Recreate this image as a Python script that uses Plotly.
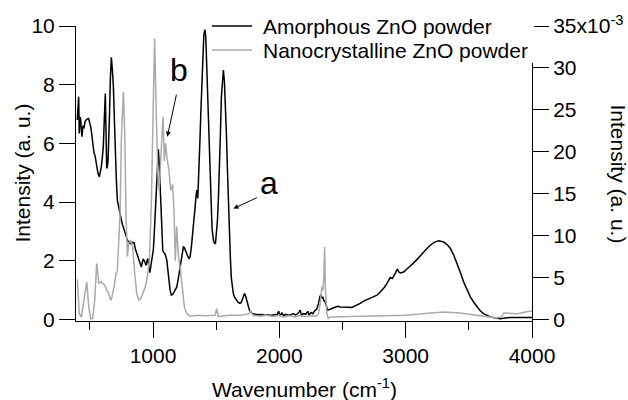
import plotly.graph_objects as go

# ---- Data ----
amorph_wn = [400, 411, 416, 422, 427, 432, 437, 445, 453, 462, 475, 490, 500, 506, 512, 519, 526, 533, 540, 546,
             555, 564, 575, 583, 590, 598, 606, 614, 622, 628, 633, 638, 644, 649, 654, 662, 670, 678, 686, 694,
             701, 709, 717, 730, 744, 757, 770, 784, 797, 810, 823, 837, 850, 860, 871, 882, 892, 900, 907, 915,
             922, 929, 937, 945, 952, 960, 966, 975, 985, 995, 1002, 1008, 1014, 1022, 1029, 1036, 1042, 1049, 1056, 1061,
             1066, 1072, 1077, 1085, 1093, 1101, 1109, 1117, 1125, 1135, 1145, 1156, 1167, 1178, 1188, 1200, 1214, 1227, 1240, 1248,
             1256, 1266, 1277, 1285, 1293, 1304, 1315, 1324, 1333, 1340, 1346, 1350, 1354, 1360, 1367, 1372, 1378, 1386, 1394, 1402,
             1410, 1416, 1420, 1428, 1436, 1446, 1457, 1467, 1478, 1486, 1494, 1502, 1510, 1518, 1526, 1533, 1541, 1549, 1557, 1565,
             1573, 1581, 1589, 1597, 1605, 1612, 1620, 1626, 1635, 1644, 1657, 1671, 1684, 1697, 1710, 1724, 1733, 1743, 1753, 1763,
             1776, 1790, 1810, 1835, 1860, 1885, 1910, 1935, 1960, 1980, 1995, 2005, 2020, 2035, 2050, 2070, 2090, 2110, 2130, 2150,
             2165, 2175, 2190, 2210, 2225, 2235, 2250, 2265, 2280, 2295, 2310, 2322, 2330, 2337, 2343, 2351, 2363, 2372, 2382, 2397,
             2429, 2460, 2482, 2521, 2550, 2575, 2614, 2640, 2667, 2695, 2720, 2750, 2773, 2795, 2812, 2832, 2852, 2866, 2878, 2894,
             2906, 2918, 2928, 2936, 2946, 2957, 2970, 2984, 3010, 3037, 3063, 3090, 3116, 3140, 3165, 3195, 3225, 3261, 3285, 3301,
             3330, 3354, 3380, 3407, 3433, 3459, 3485, 3512, 3540, 3565, 3590, 3617, 3645, 3670, 3710, 3750, 3790, 3829, 3900, 3950,
             4000]
amorph_int = [6.80, 7.59, 6.34, 6.9, 6.8, 6.3, 6.23, 6.6, 6.51, 6.75, 6.82, 6.85, 6.7, 6.57, 6.4, 6.11, 5.8, 5.66, 5.6, 5.43,
              5.2, 4.98, 4.86, 5.0, 5.2, 5.5, 5.88, 6.8, 7.70, 6.3, 5.15, 5.2, 5.43, 6.0, 6.8, 8.2, 8.93, 8.5, 7.93, 6.8,
              5.66, 4.8, 4.07, 3.75, 3.5, 3.25, 3.04, 2.85, 2.70, 2.62, 2.59, 2.63, 2.61, 2.4, 2.25, 2.1, 2.02, 1.85, 1.79, 1.95,
              2.05, 2.02, 1.9, 1.85, 2.0, 2.08, 1.8, 1.6, 1.9, 2.2, 2.36, 2.8, 3.39, 4.3, 5.09, 5.6, 5.80, 5.3, 4.52, 3.8,
              3.16, 2.7, 2.36, 2.28, 2.25, 2.15, 2.02, 1.7, 1.34, 1.0, 0.83, 0.86, 0.94, 1.02, 1.11, 1.4, 1.79, 2.2, 2.47, 2.45,
              2.36, 2.22, 2.13, 2.08, 2.13, 2.5, 2.93, 3.4, 3.84, 4.2, 4.41, 4.3, 4.13, 4.8, 5.43, 6.2, 7.02, 8.2, 9.18, 9.7,
              9.88, 9.7, 9.29, 8.2, 6.80, 5.2, 3.84, 3.1, 2.70, 2.6, 2.59, 2.9, 3.39, 4.2, 5.09, 6.3, 7.59, 8.2, 8.50, 8.1,
              7.36, 6.3, 5.09, 3.9, 3.16, 2.1, 1.4, 1.11, 0.9, 0.77, 0.68, 0.60, 0.56, 0.57, 0.72, 0.89, 0.8, 0.60, 0.45, 0.32,
              0.24, 0.20, 0.18, 0.16, 0.17, 0.15, 0.16, 0.14, 0.17, 0.15, 0.28, 0.12, 0.22, 0.14, 0.18, 0.15, 0.16, 0.2, 0.15, 0.22,
              0.32, 0.14, 0.2, 0.18, 0.28, 0.15, 0.24, 0.2, 0.3, 0.35, 0.55, 0.8, 0.83, 0.72, 0.78, 0.66, 0.6, 0.45, 0.32, 0.34,
              0.41, 0.45, 0.43, 0.41, 0.42, 0.41, 0.49, 0.55, 0.63, 0.68, 0.72, 0.78, 0.83, 0.92, 1.0, 1.1, 1.23, 1.36, 1.43, 1.40,
              1.48, 1.57, 1.68, 1.71, 1.62, 1.59, 1.6, 1.62, 1.72, 1.82, 1.93, 2.05, 2.16, 2.28, 2.4, 2.53, 2.63, 2.68, 2.67, 2.64,
              2.55, 2.42, 2.2, 1.91, 1.6, 1.28, 1.0, 0.77, 0.58, 0.43, 0.3, 0.20, 0.13, 0.09, 0.05, 0.03, 0.05, 0.07, 0.07, 0.07,
              0.07]

nano_wn = [400, 416, 432, 453, 475, 491, 506, 522, 538, 554, 570, 586, 601, 617, 633, 649, 665, 675, 691, 707,
           717, 728, 739, 749, 765, 776, 786, 797, 807, 823, 839, 855, 871, 887, 903, 918, 939, 955, 971, 987,
           1000, 1012, 1026, 1038, 1048, 1060, 1070, 1079, 1089, 1100, 1110, 1125, 1140, 1155, 1166, 1176, 1187, 1200, 1216, 1232,
           1248, 1267, 1293, 1350, 1420, 1490, 1504, 1515, 1600, 1700, 1760, 1774, 1790, 1850, 1900, 1950, 2000, 2030, 2080, 2120,
           2170, 2200, 2250, 2290, 2310, 2323, 2337, 2345, 2352, 2358, 2365, 2376, 2387, 2400, 2600, 2800, 3000, 3200, 3300, 3430,
           3565, 3644, 3723, 3760, 3776, 3881, 4000]
# intensity in units of 10^-3
nano_int_e3 = [4.8, 0.7, 0.3, 2.3, 4.5, 1.5, 0.1, 0.1, 2.3, 6.7, 4.3, 4.5, 4.3, 4.1, 3.5, 3.1, 2.3, 2.7, 3.9, 5.5,
               5.7, 8.6, 12.6, 21.4, 27.2, 22.2, 12.3, 7.5, 9.1, 9.5, 8.6, 5.5, 3.1, 2.3, 2.5, 3.1, 3.9, 5.1, 7.1, 14.2,
               26.2, 33.5, 24.2, 17.4, 15.4, 18.6, 20.7, 24.2, 18.9, 21.0, 19.3, 17.9, 15.4, 16.1, 13.0, 7.0, 11.1, 7.7, 6.0, 3.3,
               1.5, 0.7, 0.4, 0.5, 0.45, 0.5, 1.3, 0.35, 0.5, 0.5, 0.7, 1.1, 0.5, 0.4, 0.5, 0.35, 0.5, 0.3, 0.45, 0.3,
               0.5, 0.35, 0.45, 0.4, 0.7, 1.9, 3.9, 3.5, 4.9, 8.65, 3.5, 0.7, 0.1, 0.3, 0.35, 0.42, 0.52, 0.77, 0.9, 0.77,
               0.52, 0.3, 0.18, 0.35, 0.77, 0.7, 1.05]

left_ticks = [0, 2, 4, 6, 8, 10]
right_ticks_e3 = [0, 5, 10, 15, 20, 25, 30, 35]
right_ticktext = ["0", "5", "10", "15", "20", "25", "30", "35x10<sup>-3</sup>"]
x_ticks = [1000, 2000, 3000, 4000]
x_minor_ticks = [500, 1500, 2500, 3500]
series_names = ["Amorphous ZnO powder", "Nanocrystalline ZnO powder"]
x_title = "Wavenumber (cm<sup>-1</sup>)"
y_title = "Intensity (a. u.)"

FONT = "Liberation Sans, Arial, sans-serif"
BLACK = "#000000"
GRAY = "#aaaaaa"

# ---- Layout geometry (pixels) ----
W, H = 628, 400
ML, MR, MT, MB = 76, 96, 26, 79
PW, PH = W - ML - MR, H - MT - MB

def px_x(p):
    return (p - ML) / PW

def px_y(p):
    return (H - MB - p) / PH

fig = go.Figure()
fig.add_trace(go.Scatter(x=amorph_wn, y=amorph_int, mode="lines", name=series_names[0],
                         line=dict(color=BLACK, width=1.5), showlegend=False))
fig.add_trace(go.Scatter(x=nano_wn, y=[v * 1e-3 for v in nano_int_e3], mode="lines", name=series_names[1],
                         line=dict(color=GRAY, width=1.5), yaxis="y2", showlegend=False))

axis_common = dict(showline=True, linecolor=BLACK, linewidth=1, ticks="outside", ticklen=16,
                   tickcolor=BLACK, tickwidth=1, showgrid=False, zeroline=False, automargin=False,
                   tickfont=dict(family=FONT, size=21, color=BLACK))

fig.update_layout(
    width=W, height=H,
    margin=dict(l=ML, r=MR, t=MT, b=MB, pad=0, autoexpand=False),
    paper_bgcolor="white", plot_bgcolor="white",
    font=dict(family=FONT, size=21, color=BLACK),
    xaxis=dict(range=[390, 4000], tickvals=x_ticks, **axis_common,
               minor=dict(tickvals=x_minor_ticks, ticks="outside", ticklen=8, tickcolor=BLACK, tickwidth=1)),
    yaxis=dict(range=[-0.05, 10], tickvals=left_ticks, **axis_common),
    yaxis2=dict(range=[-0.05 * 3.5e-3, 35e-3], overlaying="y", side="right",
                tickvals=[v * 1e-3 for v in right_ticks_e3], ticktext=right_ticktext, **axis_common),
    showlegend=False,
)

title_font = dict(family=FONT, size=21, color=BLACK)
# axis titles
fig.add_annotation(xref="paper", yref="paper", x=px_x(304), y=px_y(388), text=x_title, showarrow=False,
                   font=title_font, xanchor="center", yanchor="middle")
fig.add_annotation(xref="paper", yref="paper", x=px_x(22), y=0.5, text=y_title, textangle=-90,
                   showarrow=False, font=title_font, xanchor="center", yanchor="middle")
fig.add_annotation(xref="paper", yref="paper", x=px_x(618), y=0.5, text=y_title, textangle=90,
                   showarrow=False, font=title_font, xanchor="center", yanchor="middle")

# opaque legend box hiding the top of the right axis line
fig.add_shape(type="rect", xref="paper", yref="paper", x0=px_x(209), x1=px_x(534), y0=px_y(63), y1=px_y(10),
              fillcolor="white", line=dict(width=0), layer="above")
legend_rows = [26, 50]
for name, color, row in zip(series_names, [BLACK, GRAY], legend_rows):
    fig.add_shape(type="line", xref="paper", yref="paper", x0=px_x(212), x1=px_x(252), y0=px_y(row), y1=px_y(row),
                  line=dict(color=color, width=1.5), layer="above")
    fig.add_annotation(xref="paper", yref="paper", x=px_x(261), y=px_y(row), text=name, showarrow=False,
                       xanchor="left", yanchor="middle", font=title_font)

# labels a / b with arrows
fig.add_annotation(x=1113, y=6.23, xref="x", yref="y", ax=9.4, ay=-43.4, text="", showarrow=True,
                   arrowhead=2, arrowsize=1, arrowwidth=1, arrowcolor=BLACK, standoff=0)
fig.add_annotation(x=1636, y=3.78, xref="x", yref="y", ax=25, ay=-11.6, text="", showarrow=True,
                   arrowhead=2, arrowsize=1, arrowwidth=1, arrowcolor=BLACK, standoff=0)
fig.add_annotation(xref="paper", yref="paper", x=px_x(178.5), y=px_y(70), text="b", showarrow=False,
                   font=dict(family=FONT, size=32, color=BLACK), xanchor="center", yanchor="middle")
fig.add_annotation(xref="paper", yref="paper", x=px_x(268.5), y=px_y(183), text="a", showarrow=False,
                   font=dict(family=FONT, size=32, color=BLACK), xanchor="center", yanchor="middle")

fig.write_html("out.html")
